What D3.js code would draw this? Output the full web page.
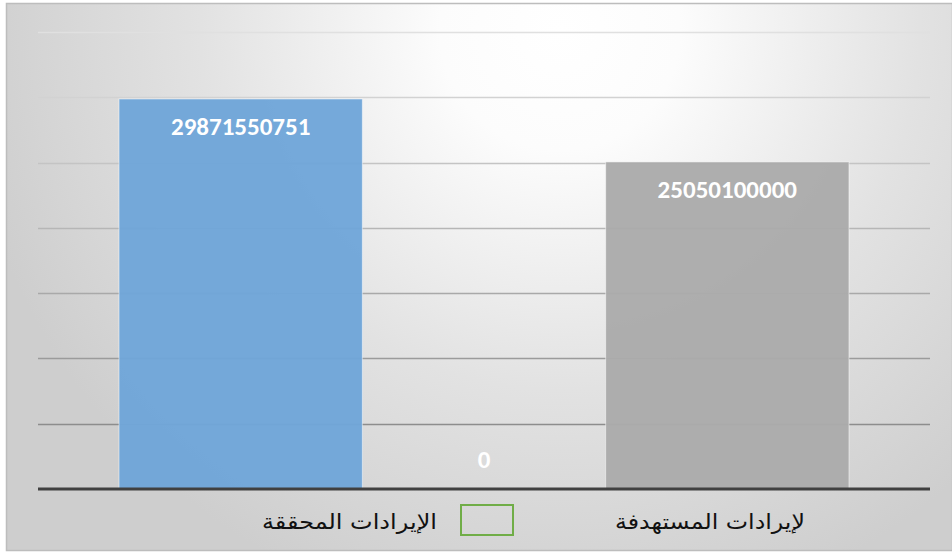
<!DOCTYPE html>
<html><head><meta charset="utf-8">
<script src="https://cdn.jsdelivr.net/npm/d3@7"></script>
<style>html,body{margin:0;padding:0;background:#fff;}svg{display:block;}</style>
</head><body>
<svg id="chart" width="952" height="552"></svg>
<script>
const categories = ["الإيرادات"];
const seriesNames = ["", "الإيرادات المحققة", "لإيرادات المستهدفة"];
const seriesValues = [29871550751, 0, 25050100000];
const seriesColors = ["#6fa5d9", "#70ad47", "#ababab"];
const yTicks = [0, 5e9, 10e9, 15e9, 20e9, 25e9, 30e9, 35e9];

const svg = d3.select("#chart");
const W = 952, H = 552;
const defs = svg.append("defs");
const rg = defs.append("radialGradient").attr("id","bg")
  .attr("gradientUnits","userSpaceOnUse").attr("cx",560).attr("cy",30).attr("r",600);
rg.append("stop").attr("offset","0").attr("stop-color","#ffffff");
rg.append("stop").attr("offset","0.2").attr("stop-color","#fcfcfc");
rg.append("stop").attr("offset","0.6").attr("stop-color","#e2e2e2");
rg.append("stop").attr("offset","1").attr("stop-color","#cecece");

svg.append("rect").attr("x",6.5).attr("y",3.5).attr("width",W-6).attr("height",547)
  .attr("fill","url(#bg)").attr("stroke","#bdbdbd").attr("stroke-width",1.5);

const plotL = 38, plotR = 930, plotT = 32, plotB = 489;
const y = d3.scaleLinear().domain([0, 35e9]).range([plotB, plotT]);
const x0 = d3.scaleBand().domain(categories).range([plotL, plotR]).paddingInner(0).paddingOuter(0.111);
const x1 = d3.scaleBand().domain(d3.range(seriesValues.length)).range([0, x0.bandwidth()]).padding(0);

const lineColor = d3.scaleLinear().domain([plotT, plotB]).range(["#e0e0e0", "#7f7f7f"]);

// gridlines
svg.append("g").selectAll("line").data(yTicks.filter(t => t > 0)).join("line")
  .attr("x1", plotL).attr("x2", plotR)
  .attr("y1", d => Math.round(y(d)) + 0.5).attr("y2", d => Math.round(y(d)) + 0.5)
  .attr("stroke", d => lineColor(y(d))).attr("stroke-width", 1.5);

// bars
const gBars = svg.append("g").attr("transform", `translate(${x0(categories[0])},0)`);
gBars.selectAll("rect").data(seriesValues.map((v,i)=>({v,i}))).join("rect")
  .attr("x", d => x1(d.i)).attr("width", x1.bandwidth())
  .attr("y", d => y(d.v)).attr("height", d => plotB - y(d.v))
  .attr("fill", d => seriesColors[d.i]).attr("fill-opacity", 0.96)
  .attr("stroke", "rgba(255,255,255,0.5)").attr("stroke-width", 1);

// baseline
svg.append("line").attr("x1", plotL).attr("x2", plotR).attr("y1", plotB).attr("y2", plotB)
  .attr("stroke", "#404040").attr("stroke-width", 3);

// labels
gBars.selectAll("text").data(seriesValues.map((v,i)=>({v,i}))).join("text")
  .attr("x", d => x1(d.i) + x1.bandwidth()/2)
  .attr("y", d => Math.min(y(d.v) + 36, plotB - 21))
  .attr("text-anchor","middle")
  .attr("font-family","Carlito, Calibri, 'Open Sans', sans-serif")
  .attr("font-weight","bold").attr("font-size",25).attr("fill","#ffffff")
  .text(d => d3.format("d")(d.v));

// legend
const leg = svg.append("g").attr("font-family","'DejaVu Sans', sans-serif").attr("font-size",21).attr("fill","#111");
leg.append("text").attr("x", 805).attr("y", 529).attr("text-anchor","end")
  .attr("textLength", 190).attr("lengthAdjust","spacingAndGlyphs").text(seriesNames[2]);
leg.append("rect").attr("x", 461).attr("y", 505).attr("width", 52).attr("height", 30)
  .attr("fill","none").attr("stroke", seriesColors[1]).attr("stroke-width", 2);
leg.append("text").attr("x", 437).attr("y", 529).attr("text-anchor","end")
  .attr("textLength", 175).attr("lengthAdjust","spacingAndGlyphs").text(seriesNames[1]);
</script>
</body></html>
